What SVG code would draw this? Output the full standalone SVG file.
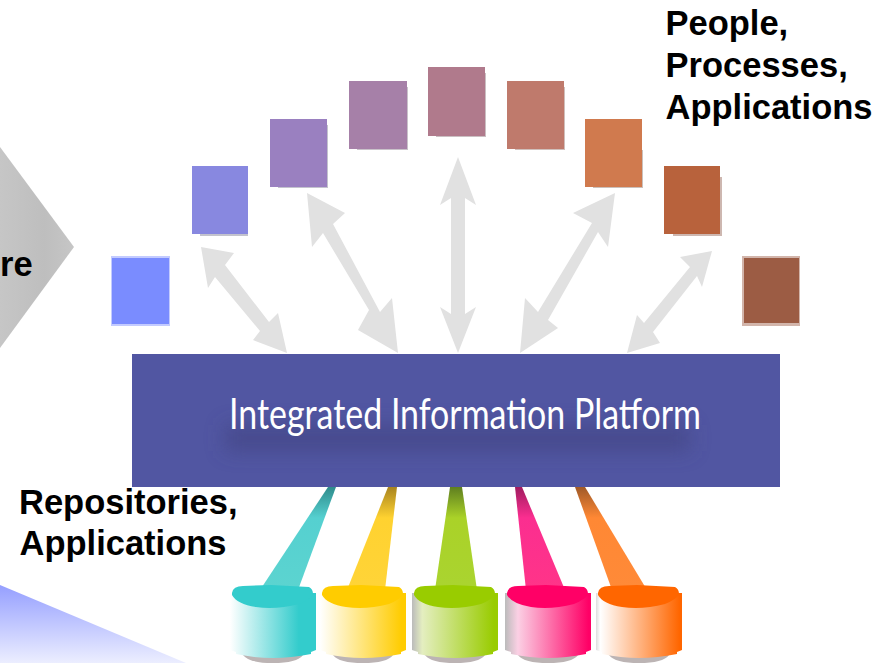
<svg xmlns="http://www.w3.org/2000/svg" width="895" height="663" viewBox="0 0 895 663">
<style>
.lbl{font-family:"Liberation Sans",Arial,sans-serif;font-weight:bold;font-size:34.5px;fill:#000}
.arr{fill:#e1e1e1}
.sh{opacity:.45}
</style>
<defs>
<linearGradient id="tri" x1="0" y1="0" x2="0" y2="1"><stop offset="0" stop-color="#959fff"/><stop offset="1" stop-color="#eceeff"/></linearGradient>
<linearGradient id="chev" x1="0" y1="0" x2="1" y2="0"><stop offset="0" stop-color="#c6c6c6"/><stop offset=".6" stop-color="#bebebe"/><stop offset="1" stop-color="#c6c6c6"/></linearGradient>
<linearGradient id="b1" x1="0" y1="0" x2="0" y2="1"><stop offset="0" stop-color="#2f8c8c"/><stop offset=".3" stop-color="#55d0d0"/><stop offset="1" stop-color="#5cd4d0"/></linearGradient>
<linearGradient id="b2" x1="0" y1="0" x2="0" y2="1"><stop offset="0" stop-color="#a88420"/><stop offset=".3" stop-color="#ffd230"/><stop offset="1" stop-color="#ffd438"/></linearGradient>
<linearGradient id="b3" x1="0" y1="0" x2="0" y2="1"><stop offset="0" stop-color="#5f7f20"/><stop offset=".3" stop-color="#aad228"/><stop offset="1" stop-color="#aad430"/></linearGradient>
<linearGradient id="b4" x1="0" y1="0" x2="0" y2="1"><stop offset="0" stop-color="#a01c60"/><stop offset=".3" stop-color="#fb2e90"/><stop offset="1" stop-color="#ff3488"/></linearGradient>
<linearGradient id="b5" x1="0" y1="0" x2="0" y2="1"><stop offset="0" stop-color="#a05a28"/><stop offset=".3" stop-color="#ff8834"/><stop offset="1" stop-color="#ff8a38"/></linearGradient>
<linearGradient id="c1"><stop offset="0" stop-color="#fff"/><stop offset=".8" stop-color="#33cccc"/><stop offset="1" stop-color="#33cccc"/></linearGradient>
<linearGradient id="c2"><stop offset="0" stop-color="#fff"/><stop offset=".95" stop-color="#ffcc00"/><stop offset="1" stop-color="#ffcc00"/></linearGradient>
<linearGradient id="c3"><stop offset="0" stop-color="#bbb"/><stop offset=".12" stop-color="#e4eec0"/><stop offset=".95" stop-color="#99cc00"/><stop offset="1" stop-color="#99cc00"/></linearGradient>
<linearGradient id="c4"><stop offset="0" stop-color="#bbb"/><stop offset=".15" stop-color="#fbd0e4"/><stop offset=".97" stop-color="#ff0066"/><stop offset="1" stop-color="#ff0066"/></linearGradient>
<linearGradient id="c5"><stop offset="0" stop-color="#ddd"/><stop offset=".05" stop-color="#fff"/><stop offset=".97" stop-color="#ff6600"/><stop offset="1" stop-color="#ff6600"/></linearGradient>
<filter id="blur" x="-15%" y="-150%" width="130%" height="400%"><feGaussianBlur stdDeviation="10"/></filter>
<path id="cylBody" d="M-1 8H85V65L80 67V69Q60 73 42 73Q24 73 5 69V67L-1 65Z"/>
<path id="cylShadow" d="M12 70H72Q66 78 42 78Q18 78 12 70Z" fill="#bcb4b4"/>
<path id="cylTop" d="M1 8Q2 1 12 1L40 0L78 2Q82 4 82 9Q80 14 68 19Q45 25 25 22Q6 19 1 10Z"/>
</defs>

<g id="background-shapes">
<polygon points="0,585 186,663 0,663" fill="url(#tri)"/>
<polygon id="chevron" points="0,147 74,247 0,348" fill="url(#chev)"/>
<text class="lbl" x="0" y="276">re</text>
</g>

<g id="connectors">
<polygon class="arr" points="201,247 234,253 225,265 269,322 278,313 287,353 253,340 260,331 215,277 208,288"/>
<polygon class="arr" points="307,193 345,213 333,224 380,312 392,298 398,353 358,330 369,310 323,233 312,247"/>
<polygon class="arr" points="458,157 476,205 465,198 465,314 476,307 458,353 440,307 451,314 451,198 440,205"/>
<polygon class="arr" points="615,193 608,247 598,232 548,320 558,328 520,353 525,298 538,312 592,223 573,213"/>
<polygon class="arr" points="712,251 702,287 697,276 653,332 660,343 627,353 637,315 644,323 690,267 680,257"/>
<polygon points="328,487 336,487 298,590 260,590" fill="url(#b1)"/>
<polygon points="388,487 397,487 385,590 347,590" fill="url(#b2)"/>
<polygon points="450,487 462,487 477,590 435,590" fill="url(#b3)"/>
<polygon points="515,487 522,487 565,590 526,590" fill="url(#b4)"/>
<polygon points="575,487 585,487 647,590 612,590" fill="url(#b5)"/>
</g>

<g id="n1"><rect class="sh" x="111" y="256" width="59" height="70" fill="#7a8cff"/><rect x="112" y="258" width="57" height="66" fill="#7a8cff"/></g>
<g id="n2"><rect class="sh" x="200" y="170" width="48" height="66" fill="#7a7a90"/><rect x="192" y="166" width="56" height="68" fill="#8888e0"/></g>
<g id="n3"><rect class="sh" x="278" y="125" width="50" height="63" fill="#7a7a90"/><rect x="270" y="119" width="57" height="68" fill="#9a80c0"/></g>
<g id="n4"><rect class="sh" x="357" y="87" width="51" height="63" fill="#88788a"/><rect x="349" y="81" width="58" height="68" fill="#a680a8"/></g>
<g id="n5"><rect class="sh" x="436" y="73" width="50" height="64" fill="#8a7078"/><rect x="428" y="67" width="57" height="69" fill="#b07a8c"/></g>
<g id="n6"><rect class="sh" x="515" y="87" width="50" height="63" fill="#967068"/><rect x="507" y="81" width="57" height="68" fill="#bf7a6c"/></g>
<g id="n7"><rect class="sh" x="593" y="150" width="50" height="38" fill="#8a7468"/><rect x="585" y="119" width="57" height="68" fill="#d07a4e"/></g>
<g id="n8"><rect class="sh" x="673" y="177" width="49" height="59" fill="#906050"/><rect x="664" y="166" width="56" height="68" fill="#b8623c"/></g>
<g id="n9"><rect class="sh" x="742" y="256" width="58" height="70" fill="#9c5c44"/><rect x="744" y="258" width="55" height="65" fill="#9c5c44"/></g>

<g id="platform">
<rect x="132" y="354" width="648" height="133" fill="#5156a2"/>
<rect x="225" y="425" width="465" height="26" fill="#41437f" opacity=".6" filter="url(#blur)"/>
<text x="229" y="429" font-family="Lato,sans-serif" font-size="42" font-weight="400" fill="#fff" textLength="472" lengthAdjust="spacingAndGlyphs">Integrated Information Platform</text>
</g>

<g id="cyl1" transform="translate(231,585)"><use href="#cylShadow"/><use href="#cylBody" fill="url(#c1)"/><use href="#cylTop" fill="#33cccc"/></g>
<g id="cyl2" transform="translate(321,585)"><use href="#cylShadow"/><use href="#cylBody" fill="url(#c2)"/><use href="#cylTop" fill="#ffcc00"/></g>
<g id="cyl3" transform="translate(413,585)"><use href="#cylShadow"/><use href="#cylBody" fill="url(#c3)"/><use href="#cylTop" fill="#99cc00"/></g>
<g id="cyl4" transform="translate(506,585)"><use href="#cylShadow"/><use href="#cylBody" fill="url(#c4)"/><use href="#cylTop" fill="#ff0066"/></g>
<g id="cyl5" transform="translate(597,585)"><use href="#cylShadow"/><use href="#cylBody" fill="url(#c5)"/><use href="#cylTop" fill="#ff6600"/></g>

<g id="labels">
<text class="lbl" x="665.5" y="35">People,</text>
<text class="lbl" x="665.5" y="77">Processes,</text>
<text class="lbl" x="665.5" y="119">Applications</text>
<text class="lbl" x="19" y="514">Repositories,</text>
<text class="lbl" x="19.5" y="555">Applications</text>
</g>
</svg>
